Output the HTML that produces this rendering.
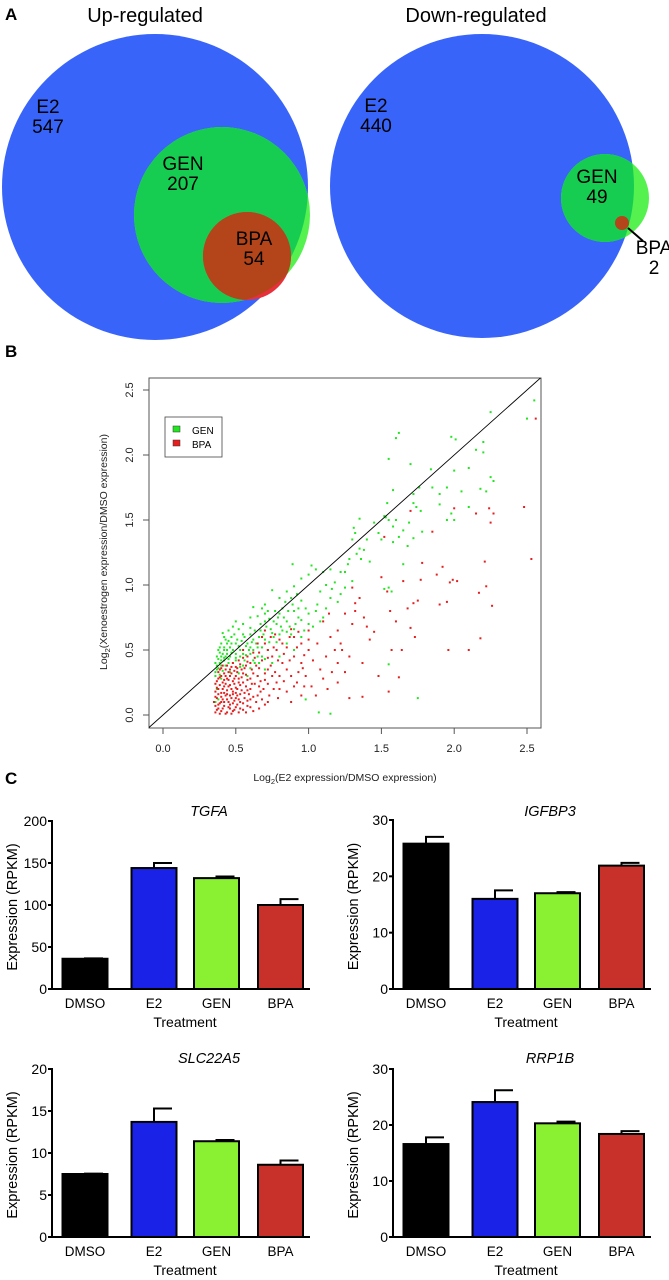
<!DOCTYPE html>
<html><head><meta charset="utf-8"><style>
html,body{margin:0;padding:0;background:#fff;}
svg{display:block;font-family:"Liberation Sans",sans-serif;}
</style></head><body>
<svg id="fig" width="669" height="1280" viewBox="0 0 669 1280" xmlns="http://www.w3.org/2000/svg">
<defs>
<clipPath id="clipBlueL"><circle cx="155" cy="187" r="153"/></clipPath>
<clipPath id="clipGreenL"><circle cx="222" cy="215" r="88"/></clipPath>
<clipPath id="clipBlueR"><circle cx="482" cy="186" r="152"/></clipPath>
<clipPath id="clipGreenR"><circle cx="605" cy="198" r="44"/></clipPath>
<clipPath id="plotClip"><rect x="149" y="378" width="392" height="350"/></clipPath>
</defs>
<text x="5" y="20" font-size="17" font-weight="bold">A</text>
<text x="5" y="357" font-size="17" font-weight="bold">B</text>
<text x="5" y="784" font-size="17" font-weight="bold">C</text>

<g>
<text x="145" y="22" font-size="20" text-anchor="middle">Up-regulated</text>
<circle cx="155" cy="187" r="153" fill="#3864fa"/>
<circle cx="222" cy="215" r="88" fill="#55f24f"/>
<circle cx="222" cy="215" r="88" fill="#16cd52" clip-path="url(#clipBlueL)"/>
<circle cx="247" cy="256" r="44" fill="#e8303a"/>
<circle cx="247" cy="256" r="44" fill="#b4451a" clip-path="url(#clipGreenL)"/>
<text x="48" y="113" font-size="19" text-anchor="middle">E2</text>
<text x="48" y="133" font-size="19" text-anchor="middle">547</text>
<text x="183" y="170" font-size="19" text-anchor="middle">GEN</text>
<text x="183" y="190" font-size="19" text-anchor="middle">207</text>
<text x="254" y="245" font-size="19" text-anchor="middle">BPA</text>
<text x="254" y="265" font-size="19" text-anchor="middle">54</text>
</g>

<g>
<text x="476" y="22" font-size="20" text-anchor="middle">Down-regulated</text>
<circle cx="482" cy="186" r="152" fill="#3864fa"/>
<circle cx="605" cy="198" r="44" fill="#55f24f"/>
<circle cx="605" cy="198" r="44" fill="#16cd52" clip-path="url(#clipBlueR)"/>
<circle cx="622" cy="223" r="7" fill="#b4451a"/>
<line x1="628" y1="228" x2="643" y2="241" stroke="#000" stroke-width="2"/>
<text x="376" y="112" font-size="19" text-anchor="middle">E2</text>
<text x="376" y="132" font-size="19" text-anchor="middle">440</text>
<text x="597" y="183" font-size="19" text-anchor="middle">GEN</text>
<text x="597" y="203" font-size="19" text-anchor="middle">49</text>
<text x="654" y="254" font-size="19" text-anchor="middle">BPA</text>
<text x="654" y="274" font-size="19" text-anchor="middle">2</text>
</g>

<g id="scatter"></g>
<g id="bars"></g>
</svg>
<script>
// ---------- Scatter data ----------
const scatterTicks = [0, 0.5, 1, 1.5, 2, 2.5];
const scatterTickLabels = ["0.0", "0.5", "1.0", "1.5", "2.0", "2.5"];
const genPoints = [[2.55,2.42],[2.5,2.28],[2.25,2.33],[1.62,2.17],[1.6,2.13],[1.98,2.14],[2.01,2.12],[2.2,2.1],[1.55,1.97],[1.7,1.93],[2.1,1.9],[2.15,2.04],[2.2,2.02],[1.84,1.89],[2.0,1.88],[1.76,1.75],[1.95,1.75],[2.25,1.83],[2.27,1.8],[2.18,1.74],[2.22,1.72],[1.58,1.73],[1.72,1.7],[1.9,1.7],[1.72,1.63],[1.74,1.6],[1.77,1.57],[1.54,1.63],[1.98,1.55],[1.95,1.5],[2.0,1.5],[1.53,1.52],[1.55,1.5],[1.52,1.53],[1.58,1.45],[1.69,1.48],[1.78,1.41],[1.35,1.51],[1.31,1.44],[1.32,1.4],[1.3,1.35],[1.58,1.33],[1.62,1.37],[1.68,1.3],[1.72,1.36],[1.5,1.35],[1.35,1.28],[1.38,1.27],[1.33,1.24],[1.36,1.2],[1.42,1.18],[1.65,1.16],[1.27,1.16],[1.02,1.15],[1.05,1.12],[0.89,1.16],[1.1,1.1],[1.15,1.12],[1.22,1.1],[1.25,1.1],[1.0,1.08],[0.95,1.05],[1.18,1.02],[1.12,1.0],[1.3,1.03],[1.55,0.98],[1.57,0.95],[1.52,0.97],[0.9,0.99],[0.85,0.95],[0.92,0.93],[0.88,0.9],[0.8,0.9],[0.84,0.87],[0.75,0.96],[0.95,0.88],[1.08,0.95],[1.15,0.9],[1.2,0.87],[0.7,0.85],[0.68,0.82],[0.62,0.83],[0.72,0.8],[0.8,0.78],[0.9,0.8],[0.98,0.82],[1.05,0.8],[1.1,0.75],[0.65,0.76],[0.6,0.75],[0.7,0.72],[0.78,0.7],[0.85,0.72],[0.93,0.75],[1.0,0.7],[1.08,0.72],[0.55,0.7],[0.5,0.72],[0.48,0.68],[0.52,0.66],[0.6,0.67],[0.67,0.65],[0.75,0.63],[0.82,0.65],[0.88,0.62],[0.95,0.6],[0.45,0.65],[0.42,0.6],[0.47,0.6],[0.55,0.62],[0.62,0.58],[0.7,0.58],[0.78,0.56],[0.85,0.55],[0.4,0.55],[0.44,0.55],[0.5,0.55],[0.57,0.53],[0.65,0.52],[0.72,0.5],[0.38,0.5],[0.42,0.5],[0.47,0.48],[0.53,0.5],[0.6,0.47],[0.68,0.45],[0.37,0.45],[0.4,0.45],[0.45,0.43],[0.5,0.44],[0.56,0.42],[0.63,0.4],[0.36,0.4],[0.39,0.4],[0.43,0.38],[0.48,0.4],[0.53,0.37],[0.6,0.36],[0.37,0.35],[0.41,0.34],[0.46,0.33],[0.52,0.32],[0.58,0.3],[0.36,0.3],[0.4,0.28],[0.37,0.2],[0.38,0.12],[0.36,0.1],[1.55,0.39],[1.75,0.13],[1.15,0.01],[1.07,0.02],[0.98,0.12],[0.65,0.3],[0.7,0.35],[0.75,0.4],[0.8,0.45],[0.9,0.5],[0.42,0.42],[0.44,0.47],[0.39,0.48],[0.46,0.52],[0.41,0.63],[0.43,0.58],
[0.37,0.38],[0.38,0.43],[0.39,0.52],[0.4,0.42],[0.41,0.47],[0.42,0.52],[0.43,0.45],[0.44,0.5],[0.45,0.57],[0.46,0.45],[0.47,0.55],[0.48,0.5],[0.49,0.62],[0.5,0.47],[0.51,0.58],[0.52,0.53],[0.54,0.57],[0.55,0.47],[0.56,0.6],[0.58,0.55],[0.59,0.5],[0.6,0.62],[0.61,0.56],[0.63,0.65],[0.64,0.55],[0.66,0.6],[0.67,0.7],[0.69,0.62],[0.7,0.78],[0.71,0.68],[0.73,0.74],[0.74,0.66],[0.76,0.72],[0.77,0.8],[0.79,0.75],[0.81,0.68],[0.82,0.82],[0.83,0.75],[0.86,0.8],[0.87,0.68],[0.89,0.85],[0.91,0.7],[0.93,0.82],[0.95,0.73],[0.97,0.65],[1.0,0.78],[1.03,0.68],[1.06,0.85],[1.12,0.82],[1.16,0.97],[1.22,0.93],[1.25,0.98],[1.28,1.2],[1.4,1.35],[1.45,1.48],[1.48,1.4],[1.6,1.5],[1.65,1.42],[1.85,1.75],[1.9,1.62],[2.05,1.72],[2.1,1.6],[0.38,0.36],[0.4,0.38],[0.36,0.33],[0.39,0.31],[0.42,0.44],[0.45,0.4],[0.5,0.42],[0.53,0.45],[0.57,0.46],[0.62,0.5],[0.65,0.45],[0.68,0.52],[0.73,0.56],[0.76,0.6],[0.8,0.62],[0.85,0.64],[0.9,0.66],[0.62,0.42],[0.66,0.4],[0.7,0.43],[0.55,0.38],[0.6,0.52]];
const bpaPoints = [[0.36,0.02],[0.38,0.05],[0.4,0.03],[0.42,0.07],[0.44,0.02],[0.46,0.05],[0.48,0.03],[0.5,0.06],[0.52,0.02],[0.55,0.04],[0.58,0.07],[0.62,0.03],[0.35,0.1],[0.37,0.13],[0.39,0.09],[0.41,0.12],[0.43,0.15],[0.45,0.1],[0.47,0.13],[0.49,0.11],[0.51,0.15],[0.53,0.1],[0.56,0.13],[0.6,0.12],[0.64,0.1],[0.36,0.18],[0.38,0.2],[0.4,0.17],[0.42,0.22],[0.44,0.19],[0.46,0.23],[0.48,0.18],[0.5,0.21],[0.52,0.25],[0.54,0.19],[0.57,0.22],[0.6,0.2],[0.63,0.24],[0.67,0.18],[0.37,0.26],[0.39,0.29],[0.41,0.25],[0.43,0.3],[0.45,0.27],[0.47,0.32],[0.49,0.28],[0.51,0.33],[0.54,0.29],[0.57,0.31],[0.6,0.28],[0.65,0.3],[0.7,0.27],[0.38,0.33],[0.4,0.36],[0.42,0.32],[0.44,0.38],[0.46,0.35],[0.48,0.4],[0.5,0.37],[0.53,0.39],[0.56,0.36],[0.6,0.4],[0.64,0.38],[0.68,0.42],[0.72,0.35],[0.75,0.3],[0.78,0.25],[0.8,0.2],[0.73,0.15],[0.7,0.08],[0.66,0.05],[0.75,0.45],[0.78,0.5],[0.82,0.4],[0.85,0.35],[0.88,0.3],[0.9,0.45],[0.92,0.25],[0.95,0.4],[0.98,0.3],[1.0,0.5],[0.95,0.55],[0.9,0.6],[0.68,0.6],[0.7,0.65],[0.65,0.55],[0.72,0.5],[0.62,0.48],[0.58,0.45],[0.55,0.5],[0.8,0.58],[0.85,0.52],[1.02,0.22],[1.05,0.15],[1.08,0.35],[1.1,0.28],[1.12,0.45],[1.15,0.6],[1.18,0.5],[1.2,0.4],[1.22,0.55],[1.25,0.33],[1.28,0.45],[1.1,0.72],[1.14,0.78],[1.2,0.65],[1.28,0.13],[1.3,0.7],[1.32,0.8],[1.35,0.9],[1.38,0.75],[1.37,0.4],[1.37,0.14],[1.4,0.68],[1.42,0.58],[1.45,0.64],[1.48,0.3],[1.5,1.06],[1.52,1.37],[1.54,0.95],[1.56,0.8],[1.57,0.5],[1.55,0.18],[1.6,0.72],[1.62,0.29],[1.64,0.5],[1.65,1.03],[1.68,0.82],[1.7,0.67],[1.7,1.57],[1.72,0.86],[1.73,0.6],[1.75,0.88],[1.77,1.04],[1.78,1.17],[1.85,1.41],[1.88,1.08],[1.9,0.85],[1.92,1.14],[1.95,0.87],[1.96,0.5],[1.97,1.02],[1.99,1.04],[2.0,1.59],[2.02,1.03],[2.1,0.5],[2.15,1.55],[2.17,0.94],[2.18,0.59],[2.21,1.18],[2.22,0.99],[2.24,1.59],[2.25,1.48],[2.26,0.84],[2.27,1.55],[2.48,1.6],[2.53,1.2],[2.56,2.28],[1.3,0.98],[1.32,0.86],[1.25,0.78],[1.0,0.65],[0.95,0.15],[0.88,0.1],
[0.37,0.04],[0.39,0.01],[0.41,0.05],[0.43,0.01],[0.45,0.06],[0.47,0.01],[0.49,0.04],[0.51,0.08],[0.53,0.05],[0.57,0.02],[0.6,0.06],[0.36,0.07],[0.38,0.08],[0.4,0.1],[0.42,0.1],[0.44,0.12],[0.46,0.08],[0.48,0.09],[0.5,0.13],[0.52,0.12],[0.55,0.09],[0.58,0.11],[0.62,0.14],[0.36,0.14],[0.38,0.16],[0.4,0.14],[0.42,0.17],[0.44,0.16],[0.46,0.15],[0.48,0.16],[0.5,0.17],[0.53,0.16],[0.56,0.17],[0.59,0.16],[0.65,0.15],[0.37,0.21],[0.39,0.23],[0.41,0.2],[0.43,0.24],[0.45,0.22],[0.47,0.2],[0.49,0.24],[0.51,0.2],[0.53,0.23],[0.55,0.25],[0.58,0.19],[0.61,0.24],[0.66,0.22],[0.69,0.2],[0.36,0.24],[0.38,0.28],[0.4,0.3],[0.42,0.27],[0.44,0.28],[0.46,0.3],[0.48,0.26],[0.5,0.3],[0.52,0.28],[0.55,0.32],[0.58,0.27],[0.62,0.32],[0.67,0.26],[0.72,0.24],[0.39,0.35],[0.41,0.38],[0.43,0.35],[0.45,0.33],[0.47,0.37],[0.49,0.34],[0.51,0.36],[0.54,0.35],[0.57,0.38],[0.61,0.35],[0.66,0.36],[0.7,0.32],[0.74,0.38],[0.77,0.33],[0.8,0.3],[0.83,0.26],[0.76,0.2],[0.79,0.13],[0.72,0.1],[0.68,0.12],[0.85,0.18],[0.9,0.22],[0.93,0.33],[0.87,0.42],[0.83,0.47],[0.79,0.42],[0.76,0.52],[0.72,0.44],[0.7,0.55],[0.66,0.48],[0.63,0.44],[0.58,0.41],[0.55,0.44],[0.52,0.42],[0.74,0.6],[0.77,0.62],[0.82,0.55],[0.87,0.6],[0.92,0.52],[0.97,0.46],[0.96,0.36],[1.03,0.42],[1.06,0.55],[1.0,0.58],[0.93,0.64],[0.88,0.66],[0.97,0.22],[1.13,0.2],[1.16,0.33],[1.2,0.25],[1.23,0.5]];

// ---------- Bar data ----------
const barCategories = ["DMSO", "E2", "GEN", "BPA"];
const barColors = ["#000000", "#1a22e8", "#8af032", "#c8302a"];
const tgfaValues = [36, 144, 132, 100];
const tgfaErrors = [0.5, 6, 2, 7];
const tgfaTicks = [0, 50, 100, 150, 200];
const igfbp3Values = [25.8, 16, 17, 21.9];
const igfbp3Errors = [1.2, 1.5, 0.2, 0.5];
const igfbp3Ticks = [0, 10, 20, 30];
const slcValues = [7.5, 13.7, 11.4, 8.6];
const slcErrors = [0.05, 1.6, 0.15, 0.5];
const slcTicks = [0, 5, 10, 15, 20];
const rrpValues = [16.6, 24.1, 20.3, 18.4];
const rrpErrors = [1.2, 2.1, 0.3, 0.5];
const rrpTicks = [0, 10, 20, 30];

const NS = "http://www.w3.org/2000/svg";
function mk(parent, tag, attrs, text) {
  const e = document.createElementNS(NS, tag);
  for (const k in attrs) e.setAttribute(k, attrs[k]);
  if (text !== undefined) e.textContent = text;
  parent.appendChild(e);
  return e;
}

// ---------- Scatter ----------
(function () {
  const g = document.getElementById("scatter");
  const sx = v => 163 + v * 145.6;
  const sy = v => 715 - v * 130;
  const box = mk(g, "rect", {x: 149, y: 378, width: 392, height: 350, fill: "none", stroke: "#555", "stroke-width": 1});
  
  
  scatterTicks.forEach((t, i) => {
    const tx = mk(g, "line", {x1: sx(t), x2: sx(t), y1: 728, y2: 734, stroke: "#555"});
    
    
    const lx = mk(g, "text", {x: sx(t), y: 752, "font-size": 11, "text-anchor": "middle", fill: "#222"}, scatterTickLabels[i]);
    
    
    const ty = mk(g, "line", {x1: 143, x2: 149, y1: sy(t), y2: sy(t), stroke: "#555"});
    
    
    const ly = mk(g, "text", {x: 0, y: 0, "font-size": 11, "text-anchor": "middle", fill: "#222", transform: `translate(133,${sy(t)}) rotate(-90)`}, scatterTickLabels[i]);
    
    
  });
  const pts = mk(g, "g", {"clip-path": "url(#plotClip)"});
  
  
  genPoints.forEach(p => {
    const c = mk(pts, "rect", {x: sx(p[0]) - 1, y: sy(p[1]) - 1, width: 2, height: 2, fill: "#22e622"});
    
    
  });
  bpaPoints.forEach(p => {
    const c = mk(pts, "rect", {x: sx(p[0]) - 1, y: sy(p[1]) - 1, width: 2, height: 2, fill: "#e61e1e"});
    
    
  });
  const diag = mk(pts, "line", {x1: sx(-0.2), y1: sy(-0.2), x2: sx(2.7), y2: sy(2.7), stroke: "#000", "stroke-width": 0.9});
  
  
  const leg = mk(g, "g", {});
  
  
  mk(leg, "rect", {x: 165, y: 417, width: 57, height: 40, fill: "#fff", stroke: "#444", "stroke-width": 0.8});
  const e1 = mk(leg, "rect", {x: 173, y: 426, width: 7, height: 6, fill: "#22e622", stroke: "#333", "stroke-width": 0.5});
  
  
  const t1 = mk(leg, "text", {x: 192, y: 434, "font-size": 10}, "GEN");
  
  
  const e2 = mk(leg, "rect", {x: 173, y: 440, width: 7, height: 6, fill: "#e61e1e", stroke: "#333", "stroke-width": 0.5});
  
  
  const t2 = mk(leg, "text", {x: 192, y: 448, "font-size": 10}, "BPA");
  
  
  const xt = mk(g, "text", {x: 345, y: 781, "font-size": 10.5, "text-anchor": "middle", fill: "#222"});
  xt.innerHTML = 'Log<tspan font-size="7.5" dy="3">2</tspan><tspan dy="-3">(E2 expression/DMSO expression)</tspan>';
  
  
  const yt = mk(g, "text", {x: 0, y: 0, "font-size": 10.5, "text-anchor": "middle", fill: "#222", transform: "translate(107,552) rotate(-90)"});
  yt.innerHTML = 'Log<tspan font-size="7.5" dy="3">2</tspan><tspan dy="-3">(Xenoestrogen expression/DMSO expression)</tspan>';
  
  
})();

// ---------- Bar charts ----------
function barChart(cfg) {
  const g = mk(document.getElementById("bars"), "g", {});
  
  
  const max = cfg.ticks[cfg.ticks.length - 1];
  const sy = v => cfg.y0 - v / max * (cfg.y0 - cfg.yTop);
  const centers = [33, 102, 164.5, 228.5];
  const bw = 45;
  const tt = mk(g, "text", {x: cfg.ax + 157, y: cfg.titleY, "font-size": 14.5, "font-style": "italic", "text-anchor": "middle"}, cfg.title);
  
  
  cfg.values.forEach((v, i) => {
    const cx = cfg.ax + centers[i];
    const top = sy(v);
    const et = sy(v + cfg.errors[i]);
    const eb = mk(g, "line", {x1: cx, x2: cx, y1: top, y2: et, stroke: "#000", "stroke-width": 2});
    
    
    const ec = mk(g, "line", {x1: cx - 1, x2: cx + 18, y1: et, y2: et, stroke: "#000", "stroke-width": 2});
    
    
    const r = mk(g, "rect", {x: cx - bw / 2, y: top, width: bw, height: cfg.y0 - top, fill: barColors[i], stroke: "#000", "stroke-width": 2});
    
    
    const l = mk(g, "text", {x: cx, y: cfg.y0 + 19, "font-size": 13.5, "text-anchor": "middle"}, barCategories[i]);
    
    
  });
  const axY = mk(g, "line", {x1: cfg.ax, x2: cfg.ax, y1: cfg.yTop - 1, y2: cfg.y0 + 1, stroke: "#000", "stroke-width": 2});
  
  
  const axX = mk(g, "line", {x1: cfg.ax, x2: cfg.ax + 258, y1: cfg.y0, y2: cfg.y0, stroke: "#000", "stroke-width": 2});
  
  
  cfg.ticks.forEach(t => {
    const tk = mk(g, "line", {x1: cfg.ax - 4, x2: cfg.ax, y1: sy(t), y2: sy(t), stroke: "#000", "stroke-width": 2});
    
    
    const tl = mk(g, "text", {x: cfg.ax - 5, y: sy(t) + 5, "font-size": 14, "text-anchor": "end"}, String(t));
    
    
  });
  const xt = mk(g, "text", {x: cfg.ax + 133, y: cfg.y0 + 38, "font-size": 14, "text-anchor": "middle"}, "Treatment");
  
  
  const yt = mk(g, "text", {x: 0, y: 0, "font-size": 14.5, "text-anchor": "middle", transform: `translate(${cfg.ax - 35},${(cfg.y0 + cfg.yTop) / 2 + 2}) rotate(-90)`}, "Expression (RPKM)");
  
  
}
barChart({name: "bar-chart-tgfa", title: "TGFA", ax: 52, y0: 989, yTop: 821, titleY: 816, ticks: tgfaTicks, values: tgfaValues, errors: tgfaErrors});
barChart({name: "bar-chart-igfbp3", title: "IGFBP3", ax: 393, y0: 989, yTop: 820, titleY: 816, ticks: igfbp3Ticks, values: igfbp3Values, errors: igfbp3Errors});
barChart({name: "bar-chart-slc22a5", title: "SLC22A5", ax: 52, y0: 1237, yTop: 1069, titleY: 1063, ticks: slcTicks, values: slcValues, errors: slcErrors});
barChart({name: "bar-chart-rrp1b", title: "RRP1B", ax: 393, y0: 1237, yTop: 1069, titleY: 1063, ticks: rrpTicks, values: rrpValues, errors: rrpErrors});
</script>
</body></html>
